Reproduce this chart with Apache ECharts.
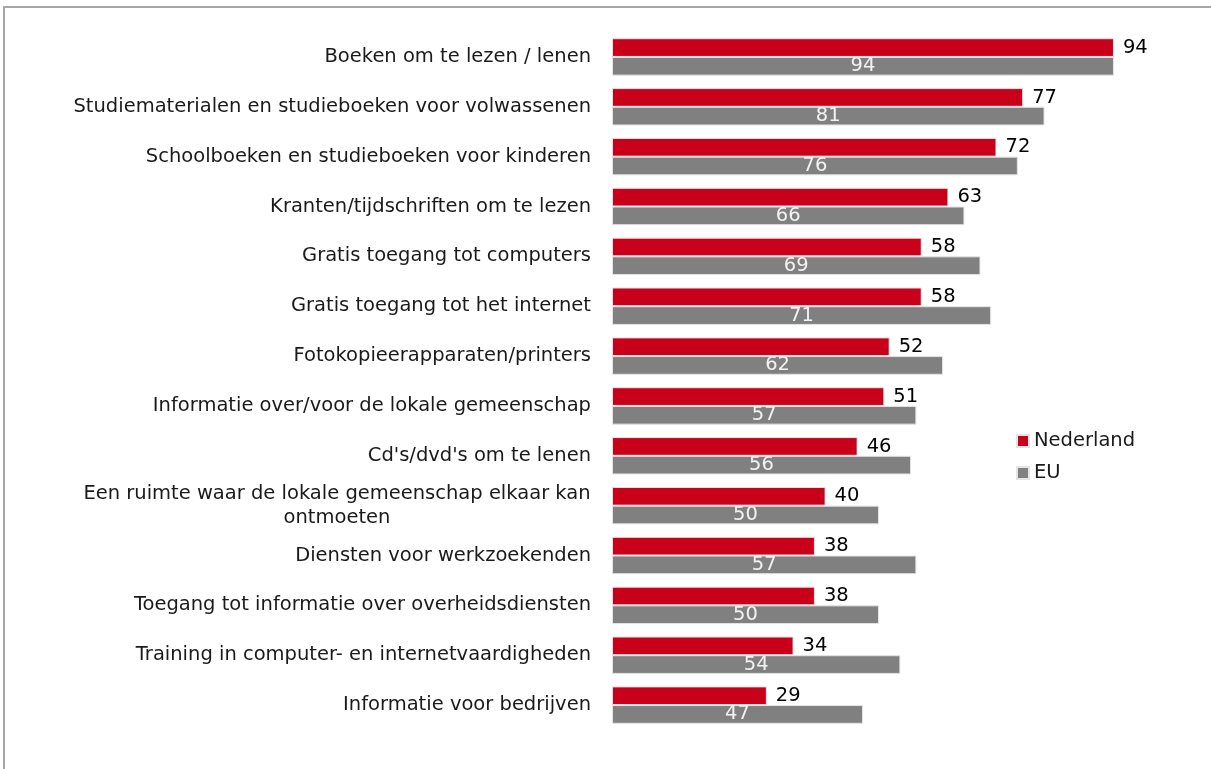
<!DOCTYPE html>
<html>
<head>
<meta charset="utf-8">
<script src="https://cdn.jsdelivr.net/npm/echarts@6/dist/echarts.min.js"></script>
<style>
  html, body { margin: 0; padding: 0; background: #fff; }
  #chart { width: 1211px; height: 769px; }
</style>
</head>
<body>
<div id="chart"></div>
<script>
const categories = [
  'Boeken om te lezen / lenen',
  'Studiematerialen en studieboeken voor volwassenen',
  'Schoolboeken en studieboeken voor kinderen',
  'Kranten/tijdschriften om te lezen',
  'Gratis toegang tot computers',
  'Gratis toegang tot het internet',
  'Fotokopieerapparaten/printers',
  'Informatie over/voor de lokale gemeenschap',
  "Cd's/dvd's om te lenen",
  'Een ruimte waar de lokale gemeenschap elkaar kan\nontmoeten',
  'Diensten voor werkzoekenden',
  'Toegang tot informatie over overheidsdiensten',
  'Training in computer- en internetvaardigheden',
  'Informatie voor bedrijven'
]
const nederland = [94, 77, 72, 63, 58, 58, 52, 51, 46, 40, 38, 38, 34, 29]
const eu = [94, 81, 76, 66, 69, 71, 62, 57, 56, 50, 57, 50, 54, 47]

const FS = 19.5
const FONT = 'DejaVu Sans'

// width of the widest line, so wrapped labels can be centred like Excel does
const measure = (() => {
  const ctx = document.createElement('canvas').getContext('2d')
  ctx.font = FS + 'px ' + FONT
  return (s) => Math.ceil(ctx.measureText(s).width)
})()

const chart = echarts.init(document.getElementById('chart'))

const richStyles = {}
const formatLabel = (v, idx) => {
  if (v.indexOf('\n') < 0) return v
  const lines = v.split('\n')
  const key = 'w' + idx
  richStyles[key] = {
    width: Math.max(...lines.map(measure)),
    align: 'center',
    fontSize: FS,
    color: '#1a1a1a',
    lineHeight: 24
  }
  return lines.map(s => '{' + key + '|' + s + '}').join('\n')
}
categories.forEach((c, i) => formatLabel(c, i))

const option = {
  animation: false,
  textStyle: { fontFamily: FONT },
  graphic: [
    {
      type: 'rect',
      shape: { x: 4, y: 7, width: 1220, height: 780 },
      style: { fill: 'none', stroke: '#a6a6a6', lineWidth: 2 }
    }
  ],
  legend: {
    orient: 'vertical',
    left: 1011,
    top: 426,
    itemWidth: 12,
    itemHeight: 12,
    itemGap: 12,
    icon: 'rect',
    textStyle: { fontSize: FS, color: '#1a1a1a', lineHeight: 20 },
    data: ['Nederland', 'EU']
  },
  grid: {
    left: 612,
    top: 32,
    width: 534,
    height: 698
  },
  xAxis: {
    type: 'value',
    min: 0,
    max: 100,
    show: false
  },
  yAxis: {
    type: 'category',
    inverse: true,
    data: categories,
    axisLine: { show: false },
    axisTick: { show: false },
    axisLabel: {
      margin: 21,
      fontSize: FS,
      color: '#1a1a1a',
      lineHeight: 24,
      formatter: formatLabel,
      rich: richStyles
    }
  },
  series: [
    {
      name: 'Nederland',
      type: 'bar',
      data: nederland,
      barGap: '0%',
      barCategoryGap: '25%',
      itemStyle: { color: '#c8001a', borderColor: '#e4e4e4', borderWidth: 1 },
      label: {
        show: true,
        position: 'right',
        distance: 9,
        fontSize: FS,
        color: '#000'
      }
    },
    {
      name: 'EU',
      type: 'bar',
      data: eu,
      itemStyle: { color: '#808080', borderColor: '#e4e4e4', borderWidth: 1 },
      label: {
        show: true,
        position: 'inside',
        fontSize: FS,
        color: '#f2f2f2'
      }
    }
  ]
}

chart.setOption(option)
</script>
</body>
</html>
